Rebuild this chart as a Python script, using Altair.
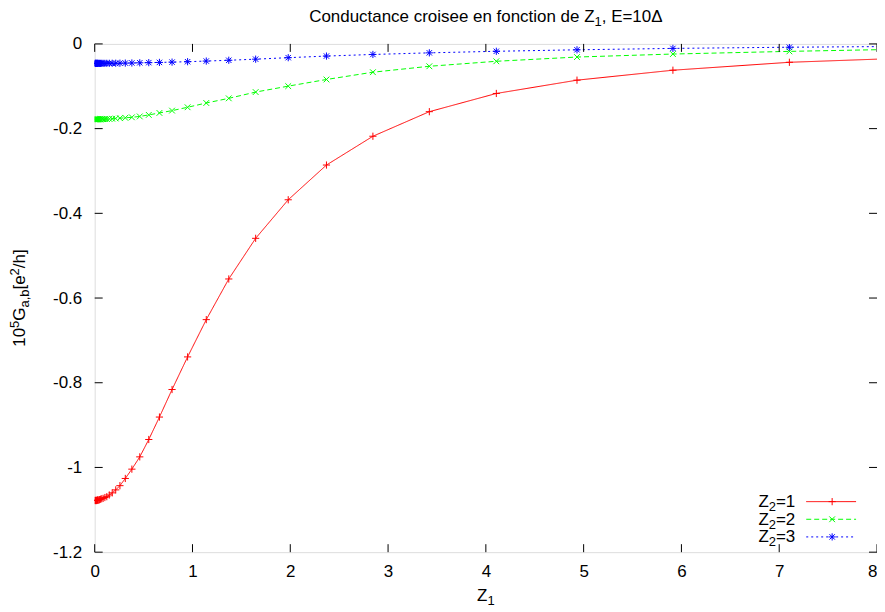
import altair as alt
import pandas as pd

# ---- data ----
z1 = [0.0, 0.004, 0.008, 0.012, 0.017, 0.021, 0.025, 0.029, 0.035, 0.042,
      0.050, 0.060, 0.072, 0.086, 0.104, 0.124, 0.149, 0.179, 0.215, 0.258,
      0.313, 0.380, 0.461, 0.553, 0.662, 0.791, 0.950, 1.141, 1.371, 1.646,
      1.979, 2.370, 2.845, 3.422, 4.107, 4.932, 5.913, 7.104, 8.52]

g_z2_1 = [-1.078, -1.078, -1.078, -1.078, -1.078, -1.078, -1.077, -1.077, -1.077, -1.077,
          -1.076, -1.075, -1.074, -1.073, -1.071, -1.069, -1.065, -1.060, -1.053, -1.043,
          -1.026, -1.004, -0.975, -0.934, -0.881, -0.816, -0.739, -0.651, -0.555, -0.459,
          -0.368, -0.286, -0.218, -0.160, -0.117, -0.0856, -0.0621, -0.0434, -0.0317]

g_z2_2 = [-0.178, -0.178, -0.178, -0.178, -0.178, -0.178, -0.178, -0.178, -0.178, -0.178,
          -0.1779, -0.1778, -0.1777, -0.1776, -0.1775, -0.1773, -0.1770, -0.1766, -0.1761, -0.1754,
          -0.1745, -0.1733, -0.1712, -0.1676, -0.1630, -0.1575, -0.1496, -0.1395, -0.1285, -0.1137,
          -0.0997, -0.0840, -0.0668, -0.0528, -0.0410, -0.0310, -0.0239, -0.0176, -0.0114]

g_z2_3 = [-0.0460, -0.0460, -0.0460, -0.0460, -0.0460, -0.0460, -0.0460, -0.0460, -0.0460, -0.0460,
          -0.0460, -0.0460, -0.0459, -0.0459, -0.0459, -0.0458, -0.0458, -0.0457, -0.0456, -0.0455,
          -0.0453, -0.0450, -0.0446, -0.0442, -0.0437, -0.0430, -0.0420, -0.0405, -0.0386, -0.0360,
          -0.0325, -0.0287, -0.0249, -0.0211, -0.0174, -0.0139, -0.0106, -0.0078, -0.0056]

series_names = ["Z2=1", "Z2=2", "Z2=3"]
series_colors = ["#ff0000", "#00ff00", "#0000ff"]
series_dash = [[1, 0], [5, 3], [2, 3]]
PLUS = "M-1,0L1,0M0,-1L0,1"
XMARK = "M-0.8,-0.8L0.8,0.8M-0.8,0.8L0.8,-0.8"
STAR = "M-1,0L1,0M0,-1L0,1M-0.75,-0.75L0.75,0.75M-0.75,0.75L0.75,-0.75"
series_shapes = [PLUS, XMARK, STAR]

x_ticks = [0, 1, 2, 3, 4, 5, 6, 7, 8]
y_ticks = [-1.2, -1.0, -0.8, -0.6, -0.4, -0.2, 0.0]

# rich texts: (text, role) with role "n" normal, "sub", "sup"
title_parts = [("Conductance croisee en fonction de Z", "n"), ("1", "sub"), (", E=10Δ", "n")]
xlabel_parts = [("Z", "n"), ("1", "sub")]
ylabel_parts = [("10", "n"), ("5", "sup"), ("G", "n"), ("a,b", "sub"),
                ("[e", "n"), ("2", "sup"), ("/h]", "n")]
legend_parts = [[("Z", "n"), ("2", "sub"), ("=1", "n")],
                [("Z", "n"), ("2", "sub"), ("=2", "n")],
                [("Z", "n"), ("2", "sub"), ("=3", "n")]]

# ---- layout ----
W, H = 785, 510
FONT = "Liberation Sans"
FS = 17
SS = 13
SHIFT = {"n": 0, "sub": 4, "sup": -6}

AW = {"C": .722, "o": .556, "n": .556, "d": .556, "u": .556, "c": .5, "t": .278, "a": .556,
      "e": .556, " ": .278, "r": .333, "i": .222, "s": .5, "f": .278, "Z": .611, "E": .667,
      "=": .584, "Δ": .668, ",": .278, "G": .778, "b": .556, "[": .278, "]": .278, "/": .278,
      "h": .556, "0": .556, "1": .556, "2": .556, "3": .556, "5": .556}


def size_of(role):
    return FS if role == "n" else SS


def width_of(parts):
    return sum(sum(AW.get(c, .556) for c in t) * size_of(r) for t, r in parts)


rows = []
for name, ys in zip(series_names, [g_z2_1, g_z2_2, g_z2_3]):
    for xv, yv in zip(z1, ys):
        rows.append({"z1": xv, "g": yv, "series": name})
df = pd.DataFrame(rows)

xscale = alt.Scale(domain=[0, 8], nice=False, zero=False)
yscale = alt.Scale(domain=[-1.2, 0], nice=False, zero=False)
color = alt.Color("series:N", scale=alt.Scale(domain=series_names, range=series_colors), legend=None)
dash = alt.StrokeDash("series:N", scale=alt.Scale(domain=series_names, range=series_dash), legend=None)
shape = alt.Shape("series:N", scale=alt.Scale(domain=series_names, range=series_shapes), legend=None)

xaxis = alt.Axis(values=x_ticks, ticks=False, domain=False, grid=False, labelPadding=11,
                 labelFont=FONT, labelFontSize=FS, labelColor="black", labelFlush=False,
                 labelOverlap=False, labelBound=False, title=None, format="d",
                 labelAlign={"expr": "datum.value >= 8 ? 'right' : 'center'"})
yaxis = alt.Axis(values=y_ticks, ticks=False, domain=False, grid=False, labelPadding=13,
                 labelFont=FONT, labelFontSize=FS, labelColor="black", labelFlush=False,
                 labelOverlap=False, labelBound=False, title=None,
                 labelExpr="datum.value < 0 ? '-' + format(-datum.value, '~g') : format(datum.value, '~g')")

lines = alt.Chart(df).mark_line(strokeWidth=1, clip=True).encode(
    x=alt.X("z1:Q", scale=xscale, axis=xaxis),
    y=alt.Y("g:Q", scale=yscale, axis=yaxis),
    color=color, strokeDash=dash, order=alt.Order("z1:Q"),
)
points = alt.Chart(df).mark_point(filled=False, strokeWidth=1, size=52, opacity=1, clip=True).encode(
    x=alt.X("z1:Q", scale=xscale, axis=xaxis),
    y=alt.Y("g:Q", scale=yscale, axis=yaxis),
    color=color, shape=shape,
)

xt = pd.DataFrame({"z1": x_ticks})
yt = pd.DataFrame({"g": y_ticks})
TL = 8
tick_layers = [
    alt.Chart(xt).mark_rule(color="black", strokeWidth=1).encode(
        x=alt.X("z1:Q", scale=xscale, axis=xaxis), y=alt.value(H), y2=alt.value(H - TL)),
    alt.Chart(xt).mark_rule(color="black", strokeWidth=1).encode(
        x=alt.X("z1:Q", scale=xscale, axis=xaxis), y=alt.value(0), y2=alt.value(TL)),
    alt.Chart(yt).mark_rule(color="black", strokeWidth=1).encode(
        y=alt.Y("g:Q", scale=yscale, axis=yaxis), x=alt.value(0), x2=alt.value(TL)),
    alt.Chart(yt).mark_rule(color="black", strokeWidth=1).encode(
        y=alt.Y("g:Q", scale=yscale, axis=yaxis), x=alt.value(W), x2=alt.value(W - TL)),
]

one = pd.DataFrame({"k": [0]})


def txt(text, x, y, size=FS, align="left", baseline="alphabetic", angle=0):
    return alt.Chart(one).mark_text(text=text, font=FONT, fontSize=size, align=align,
                                    baseline=baseline, angle=angle, color="black").encode(
        x=alt.value(x), y=alt.value(y))


def rich_h(parts, x0, y0):
    out = []
    x = x0
    for t, r in parts:
        s = size_of(r)
        out.append(txt(t, x, y0 + SHIFT[r], size=s))
        x += sum(AW.get(c, .556) for c in t) * s
    return out


def rich_v(parts, x0, y0):
    out = []
    y = y0
    for t, r in parts:
        s = size_of(r)
        out.append(txt(t, x0 + SHIFT[r], y, size=s, angle=270))
        y -= sum(AW.get(c, .556) for c in t) * s
    return out


text_layers = []
text_layers += rich_h(title_parts, W / 2 - width_of(title_parts) / 2, -22)
text_layers += rich_h(xlabel_parts, W / 2 - width_of(xlabel_parts) / 2, 559)
text_layers += rich_v(ylabel_parts, -70, H / 2 + width_of(ylabel_parts) / 2)

# legend
leg_rows = [459.3, 477.0, 494.7]
legend_layers = []
for parts, col, d, shp, ry in zip(legend_parts, series_colors, series_dash, series_shapes, leg_rows):
    legend_layers += rich_h(parts, 703 - width_of(parts), ry + 5.5)
    legend_layers.append(alt.Chart(one).mark_rule(color=col, strokeWidth=1, strokeDash=d).encode(
        x=alt.value(714), x2=alt.value(764), y=alt.value(ry)))
    legend_layers.append(alt.Chart(one).mark_point(shape=shp, filled=False, strokeWidth=1, size=52,
                                                   color=col, opacity=1).encode(
        x=alt.value(740), y=alt.value(ry)))

chart = alt.layer(lines, points, *tick_layers, *text_layers, *legend_layers).properties(
    width=W, height=H,
    autosize=alt.AutoSizeParams(type="none"),
    padding={"left": 87, "top": 35, "right": 0, "bottom": 56},
).configure_view(stroke="black", strokeWidth=1.5).configure(background="white")

chart.save("out.html", embed_options={"renderer": "svg", "actions": False})
